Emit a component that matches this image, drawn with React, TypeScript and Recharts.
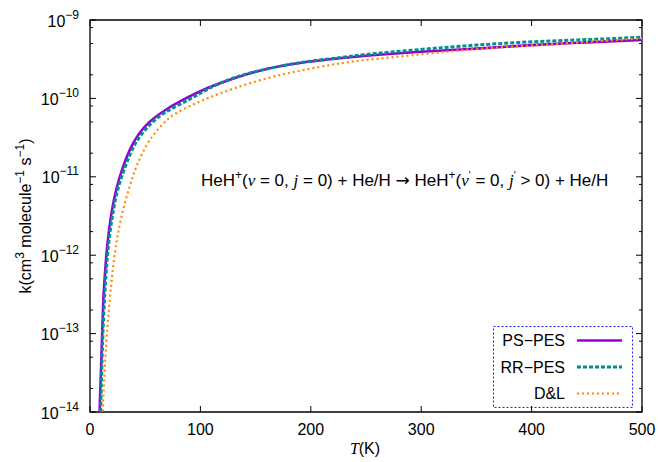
import React from 'react';
import {
  Customized,
  Line,
  LineChart,
  ReferenceArea,
  XAxis,
  YAxis,
} from 'recharts';

// rate coefficients vs T (K), stored as log10 of k (cm^3 molecule^-1 s^-1)
const PS_T = [8, 9, 10, 11, 12, 13, 14, 15, 17, 20, 24, 30, 39, 51, 66, 84, 107, 130, 160, 190, 220, 250, 300, 350, 400, 450, 500];
const PS_LOGK = [-14.4, -13.85, -13.45, -13.0, -12.6, -12.35, -12.15, -11.97, -11.71, -11.42, -11.15, -10.87, -10.575, -10.34, -10.17, -10.02, -9.865, -9.745, -9.625, -9.548, -9.497, -9.455, -9.405, -9.365, -9.32, -9.285, -9.255];

const RR_T = [9, 10, 11, 12, 13, 14, 15, 16, 18, 21, 25, 32, 41, 53, 68, 89, 107, 130, 160, 190, 220, 250, 300, 350, 400, 450, 500];
const RR_LOGK = [-14.3, -13.8, -13.3, -12.9, -12.6, -12.35, -12.15, -11.98, -11.72, -11.45, -11.17, -10.87, -10.58, -10.355, -10.18, -10.02, -9.88, -9.74, -9.625, -9.545, -9.49, -9.44, -9.375, -9.32, -9.278, -9.25, -9.22];

const DL_T = [11, 12, 13, 14, 15, 16, 18, 20, 22, 25, 30, 36, 42, 52, 65, 78, 93, 108, 130, 160, 190, 220, 250, 300, 350, 400, 450, 500];
const DL_LOGK = [-14.25, -13.85, -13.55, -13.3, -13.05, -12.88, -12.55, -12.27, -12.03, -11.75, -11.42, -11.12, -10.87, -10.58, -10.34, -10.19, -10.08, -9.99, -9.875, -9.745, -9.648, -9.568, -9.51, -9.438, -9.37, -9.325, -9.28, -9.234];

const X_TICKS = [0, 100, 200, 300, 400, 500];
const Y_EXPONENTS = [-14, -13, -12, -11, -10, -9];
const Y_MINOR = [2, 5, 8];

const SERIES = [
  { name: 'PS\u2212PES', T: PS_T, L: PS_LOGK, color: '#9400d3', width: 2.6, dash: undefined as string | undefined },
  { name: 'RR\u2212PES', T: RR_T, L: RR_LOGK, color: '#009090', width: 3, dash: '4 2' },
  { name: 'D&L', T: DL_T, L: DL_LOGK, color: '#ff8c00', width: 2.2, dash: '2 3' },
];

const W = 658;
const H = 462;
const LEFT = 90;
const RIGHT = 642;
const TOP = 20;
const BOTTOM = 412;
const FONT = 'Liberation Sans, Arial, sans-serif';
const SERIF = 'Liberation Serif, Times New Roman, serif';

const yTicks: number[] = [];
Y_EXPONENTS.forEach(e => {
  yTicks.push(Math.pow(10, e));
  if (e < -9) Y_MINOR.forEach(m => yTicks.push(m * Math.pow(10, e)));
});

const toRows = (T: number[], L: number[]) => T.map((t, i) => ({ T: t, k: Math.pow(10, L[i]) }));

function XTick({ x, payload }: any) {
  return (
    <g>
      <line x1={x} x2={x} y1={BOTTOM} y2={BOTTOM - 6} stroke="#000" strokeWidth={1} />
      <line x1={x} x2={x} y1={TOP} y2={TOP + 6} stroke="#000" strokeWidth={1} />
      <text x={x} y={435} textAnchor="middle" fontFamily={FONT} fontSize={16} fill="#000">
        {payload.value}
      </text>
    </g>
  );
}

function YTick({ y, payload }: any) {
  const v = payload.value as number;
  const e = Math.round(Math.log10(v));
  const major = Math.abs(v / Math.pow(10, e) - 1) < 1e-6;
  const len = major ? 6 : 3;
  return (
    <g>
      <line x1={LEFT} x2={LEFT + len} y1={y} y2={y} stroke="#000" strokeWidth={1} />
      <line x1={RIGHT} x2={RIGHT - len} y1={y} y2={y} stroke="#000" strokeWidth={1} />
      {major && (
        <text x={79} y={y + 6.5} textAnchor="end" fontFamily={FONT} fontSize={16} fill="#000">
          <tspan>10</tspan>
          <tspan dy={-8} fontSize={12}>{'\u2212' + Math.abs(e)}</tspan>
        </text>
      )}
    </g>
  );
}

function YLabel() {
  return (
    <text
      transform="translate(31,216) rotate(-90)"
      textAnchor="middle"
      fontFamily={FONT}
      fontSize={16}
      fill="#000"
    >
      <tspan>k(cm</tspan>
      <tspan dy={-7} fontSize={12}>3</tspan>
      <tspan dy={7}> molecule</tspan>
      <tspan dy={-7} fontSize={12}>{'\u22121'}</tspan>
      <tspan dy={7}> s</tspan>
      <tspan dy={-7} fontSize={12}>{'\u22121'}</tspan>
      <tspan dy={7}>)</tspan>
    </text>
  );
}

function XLabel() {
  return (
    <text x={365} y={454} textAnchor="middle" fontFamily={FONT} fontSize={16} fill="#000">
      <tspan fontFamily={SERIF} fontStyle="italic">T</tspan>
      <tspan>(K)</tspan>
    </text>
  );
}

function Overlay() {
  const it = { fontFamily: SERIF, fontStyle: 'italic' as const };
  return (
    <g>
      <text x={201} y={186} fontFamily={FONT} fontSize={17} fill="#000">
        <tspan>HeH</tspan>
        <tspan dy={-7} fontSize={12}>+</tspan>
        <tspan dy={7}>(</tspan>
        <tspan {...it}>ν</tspan>
        <tspan> = 0, </tspan>
        <tspan {...it}>j</tspan>
        <tspan> = 0) + He/H </tspan>
        <tspan fontFamily="DejaVu Sans" fontSize={17}>{'\u2192'}</tspan>
        <tspan>  HeH</tspan>
        <tspan dy={-7} fontSize={12}>+</tspan>
        <tspan dy={7}>(</tspan>
        <tspan {...it}>ν</tspan>
        <tspan dy={-7} fontSize={10}>{"'"}</tspan>
        <tspan dy={7}> = 0, </tspan>
        <tspan {...it}>j</tspan>
        <tspan dy={-7} fontSize={10}>{"'"}</tspan>
        <tspan dy={7}> &gt; 0) + He/H</tspan>
      </text>
      <g transform="translate(493,326)">
        <rect x={0.5} y={0.5} width={139} height={81} fill="#fff" stroke="#2222ff" strokeWidth={1} strokeDasharray="2 2" />
        {SERIES.map((s, i) => (
          <g key={s.name}>
            <text x={72} y={20 + i * 26.5} textAnchor="end" fontFamily={FONT} fontSize={16} fill="#000">
              {s.name}
            </text>
            <line
              x1={84}
              x2={129}
              y1={14.5 + i * 26.5}
              y2={14.5 + i * 26.5}
              stroke={s.color}
              strokeWidth={s.width}
              strokeDasharray={s.dash}
            />
          </g>
        ))}
      </g>
    </g>
  );
}

export default function App() {
  return (
    <div style={{ position: 'absolute', left: 0, top: 0, width: W, height: H, background: '#fff' }}>
      <LineChart width={W} height={H} margin={{ top: TOP, right: W - RIGHT, bottom: 0, left: 0 }}>
        <XAxis
          type="number"
          dataKey="T"
          domain={[0, 500]}
          ticks={X_TICKS}
          interval={0}
          allowDuplicatedCategory={false}
          axisLine={false}
          tickLine={false}
          tick={<XTick />}
          height={H - BOTTOM}
          label={<XLabel />}
        />
        <YAxis
          type="number"
          scale="log"
          domain={[1e-14, 1e-9]}
          allowDataOverflow
          ticks={yTicks}
          interval={0}
          axisLine={false}
          tickLine={false}
          tick={<YTick />}
          width={LEFT}
          label={<YLabel />}
        />
        {SERIES.map(s => (
          <Line
            key={s.name}
            data={toRows(s.T, s.L)}
            dataKey="k"
            name={s.name}
            type="natural"
            stroke={s.color}
            strokeWidth={s.width}
            strokeDasharray={s.dash}
            dot={false}
            isAnimationActive={false}
          />
        ))}
        <ReferenceArea x1={0} x2={500} y1={1e-14} y2={1e-9} fill="none" stroke="#000" strokeWidth={1.3} />
        <Customized component={<Overlay />} />
      </LineChart>
    </div>
  );
}
